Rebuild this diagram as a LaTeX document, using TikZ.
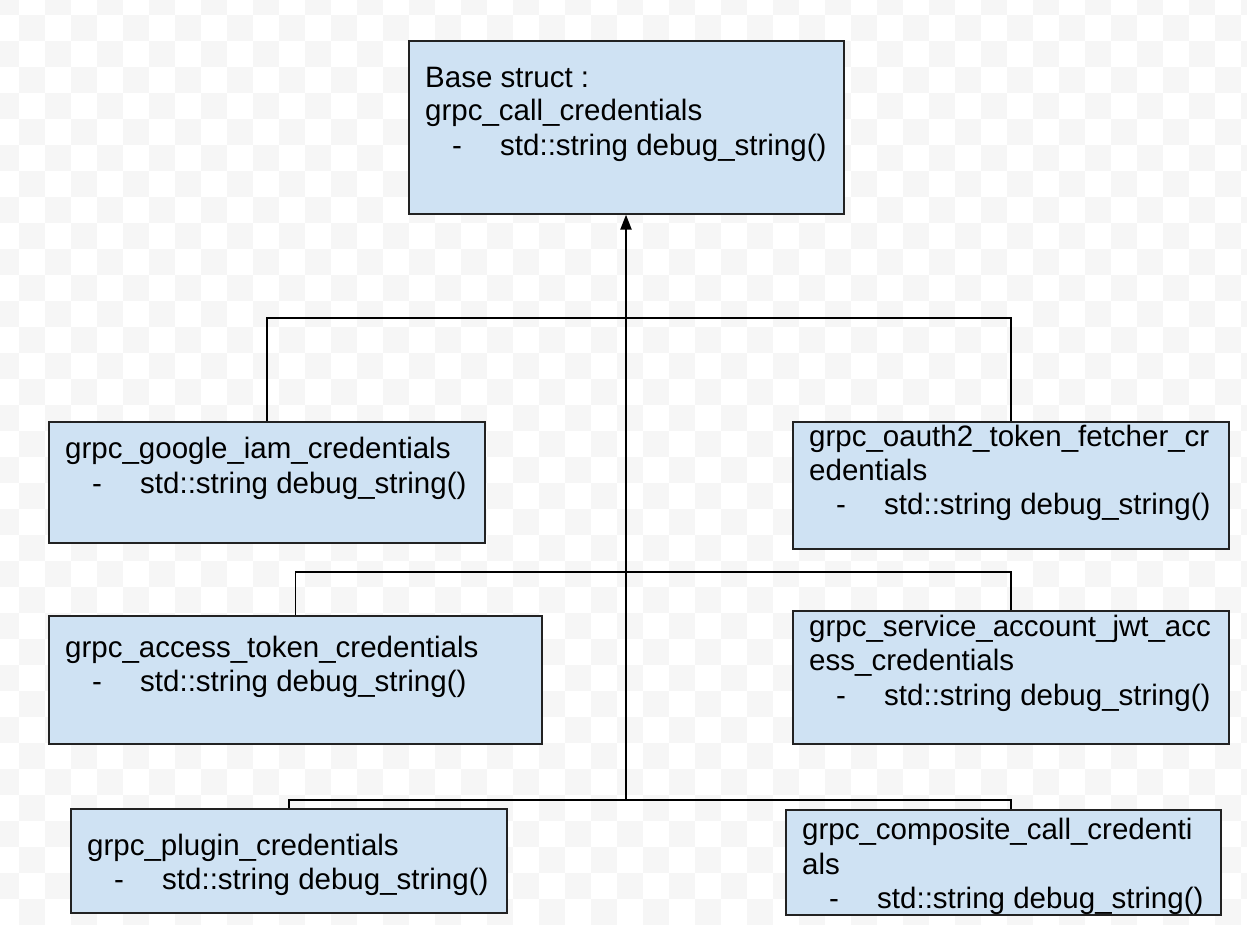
\documentclass[tikz,border=0pt]{standalone}
\usepackage{fontspec}
\setmainfont{Liberation Sans}
\usetikzlibrary{arrows.meta}
\definecolor{boxfill}{RGB}{207,226,243}
\definecolor{boxline}{RGB}{34,34,34}
\definecolor{checker}{RGB}{246,246,246}
\newcommand{\lblfont}{\fontsize{29.5pt}{34.5pt}\selectfont}
\newcommand{\dbgline}{\makebox[75pt][l]{\hspace{27pt}-}std::string debug\_string()}
\tikzset{
  box/.style={draw=boxline, fill=boxfill, line width=1.3pt, inner sep=0pt, rectangle},
  txt/.style={anchor=base west, inner sep=0pt, font=\lblfont, text=black},
  conn/.style={draw=black, line width=1.5pt},
  mainline/.style={draw=black, line width=2.2pt, -{Triangle[length=15pt,width=11pt]}}
}
\begin{document}
\begin{tikzpicture}[x=1pt,y=-1pt]
\useasboundingbox (0,0) rectangle (1247,924);
\clip (0,0) rectangle (1247,924);
\fill[white] (0,0) rectangle (1247,924);
\foreach \i in {-1,...,47}{\foreach \j in {-1,...,35}{
  \pgfmathtruncatemacro\cksum{\i+\j+100}
  \ifodd\cksum\else \fill[checker] (19+26*\i,15+26*\j) rectangle ++(26,26); \fi
}}
% boxes
\node[box, minimum width=435pt, minimum height=173pt] (base) at (626.5,127.5) {};
\node[box, minimum width=436pt, minimum height=121pt] (google) at (267,482.5) {};
\node[box, minimum width=436pt, minimum height=127pt] (oauth) at (1011,485.5) {};
\node[box, minimum width=493pt, minimum height=128pt] (access) at (295.5,680) {};
\node[box, minimum width=436pt, minimum height=133pt] (service) at (1011,677.5) {};
\node[box, minimum width=436pt, minimum height=104pt] (plugin) at (289,861) {};
\node[box, minimum width=435pt, minimum height=105pt] (composite) at (1003.5,862.5) {};
% texts
\node[txt] (base1) at (425,87) {Base struct :};
\node[txt] (base2) at (425,120.5) {grpc\_call\_credentials};
\node[txt] (base3) at (425,155) {\dbgline};
\node[txt] (google1) at (65,458.5) {grpc\_google\_iam\_credentials};
\node[txt] (google2) at (65,493) {\dbgline};
\node[txt] (oauth1) at (809,446) {grpc\_oauth2\_token\_fetcher\_cr};
\node[txt] (oauth2) at (809,480) {edentials};
\node[txt] (oauth3) at (809,514) {\dbgline};
\node[txt] (access1) at (65,657) {grpc\_access\_token\_credentials};
\node[txt] (access2) at (65,691) {\dbgline};
\node[txt] (service1) at (809,636) {grpc\_service\_account\_jwt\_acc};
\node[txt] (service2) at (809,670.5) {ess\_credentials};
\node[txt] (service3) at (809,705) {\dbgline};
\node[txt] (plugin1) at (87,855) {grpc\_plugin\_credentials};
\node[txt] (plugin2) at (87,889.5) {\dbgline};
\node[txt] (composite1) at (802,839) {grpc\_composite\_call\_credenti};
\node[txt] (composite2) at (802,874) {als};
\node[txt] (composite3) at (802,908) {\dbgline};
% connectors
\coordinate (hub1) at (626,318);
\coordinate (hub2) at (626,572);
\coordinate (hub3) at (626,800);
\draw[conn] (google.north) |- (hub1) -| (oauth.north);
\draw[conn] (access.north) |- (hub2) -| (service.north);
\draw[conn] (plugin.north) |- (hub3) -| (oauth.north |- composite.north);
\draw[mainline] (hub3) -- (hub3 |- base.south);
\end{tikzpicture}
\end{document}
